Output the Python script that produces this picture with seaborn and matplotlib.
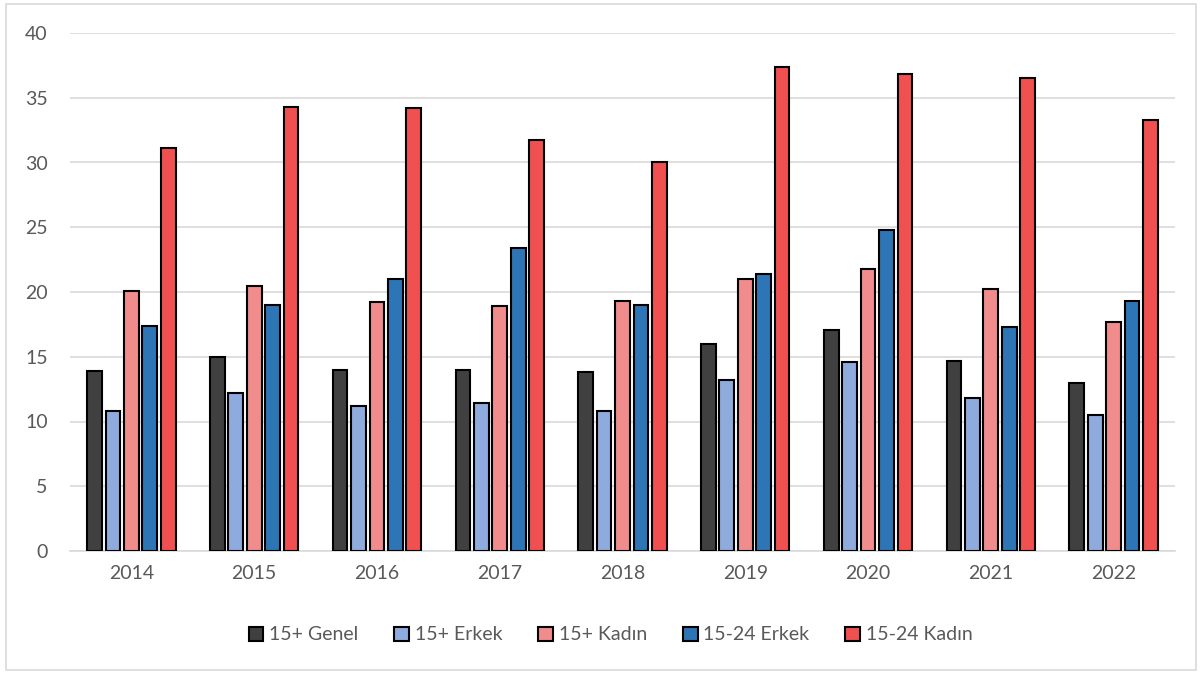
import matplotlib
matplotlib.use("Agg")
import matplotlib.pyplot as plt
import seaborn as sns
import pandas as pd
from matplotlib.patches import Rectangle

years = ["2014", "2015", "2016", "2017", "2018", "2019", "2020", "2021", "2022"]
series = ["15+ Genel", "15+ Erkek", "15+ Kadın", "15-24 Erkek", "15-24 Kadın"]
genel_15 = [13.9, 15.0, 14.0, 14.0, 13.8, 16.0, 17.1, 14.7, 13.0]
erkek_15 = [10.8, 12.2, 11.2, 11.4, 10.8, 13.2, 14.6, 11.8, 10.5]
kadin_15 = [20.1, 20.5, 19.2, 18.9, 19.3, 21.0, 21.8, 20.2, 17.7]
erkek_1524 = [17.4, 19.0, 21.0, 23.4, 19.0, 21.4, 24.8, 17.3, 19.3]
kadin_1524 = [31.1, 34.3, 34.2, 31.7, 30.0, 37.4, 36.8, 36.5, 33.3]
colors = ["#404040", "#8FAADC", "#F08C8C", "#2E75B6", "#F05050"]

rows = []
for s, vals in zip(series, [genel_15, erkek_15, kadin_15, erkek_1524, kadin_1524]):
    for y, v in zip(years, vals):
        rows.append({"Yıl": y, "Seri": s, "Değer": v})
df = pd.DataFrame(rows)

sns.set_theme(style="white")
plt.rcParams["font.family"] = ["Lato", "DejaVu Sans"]

fig = plt.figure(figsize=(12.02, 6.75), dpi=100)
ax = fig.add_axes([70 / 1202, 1 - 551 / 675, 1105 / 1202, 518 / 675])

sns.barplot(data=df, x="Yıl", y="Değer", hue="Seri", hue_order=series,
            palette=colors, width=0.75, gap=0.2, edgecolor="black",
            linewidth=1.5, saturation=1, ax=ax, legend=True, zorder=3)

ax.set_ylim(0, 40)
ax.set_xlim(-0.5, 8.5)
ax.set_yticks(range(0, 41, 5))
ax.yaxis.grid(True, color="#D9D9D9", linewidth=1.2, zorder=0)
ax.set_axisbelow(True)
for side in ["top", "right", "left"]:
    ax.spines[side].set_visible(False)
ax.spines["bottom"].set_color("#D9D9D9")
ax.spines["bottom"].set_linewidth(1.2)
ax.set_xlabel("")
ax.set_ylabel("")
ax.tick_params(axis="both", length=0, labelsize=14, labelcolor="#595959")
ax.tick_params(axis="y", pad=16)
ax.tick_params(axis="x", pad=10)

handles, labels = ax.get_legend_handles_labels()
ax.legend_.remove()
fig.legend(handles, labels, loc="center", bbox_to_anchor=(0.508, 1 - 635 / 675),
           ncol=5, frameon=False, fontsize=14, labelcolor="#595959",
           handlelength=0.75, handleheight=0.75, handletextpad=0.3, columnspacing=1.85)

fig.patches.append(Rectangle((6 / 1202, 1 - 670 / 675), 1190 / 1202, 666 / 675,
                             transform=fig.transFigure, fill=False,
                             edgecolor="#D9D9D9", linewidth=1.2))

fig.savefig("out.png", dpi=100)
